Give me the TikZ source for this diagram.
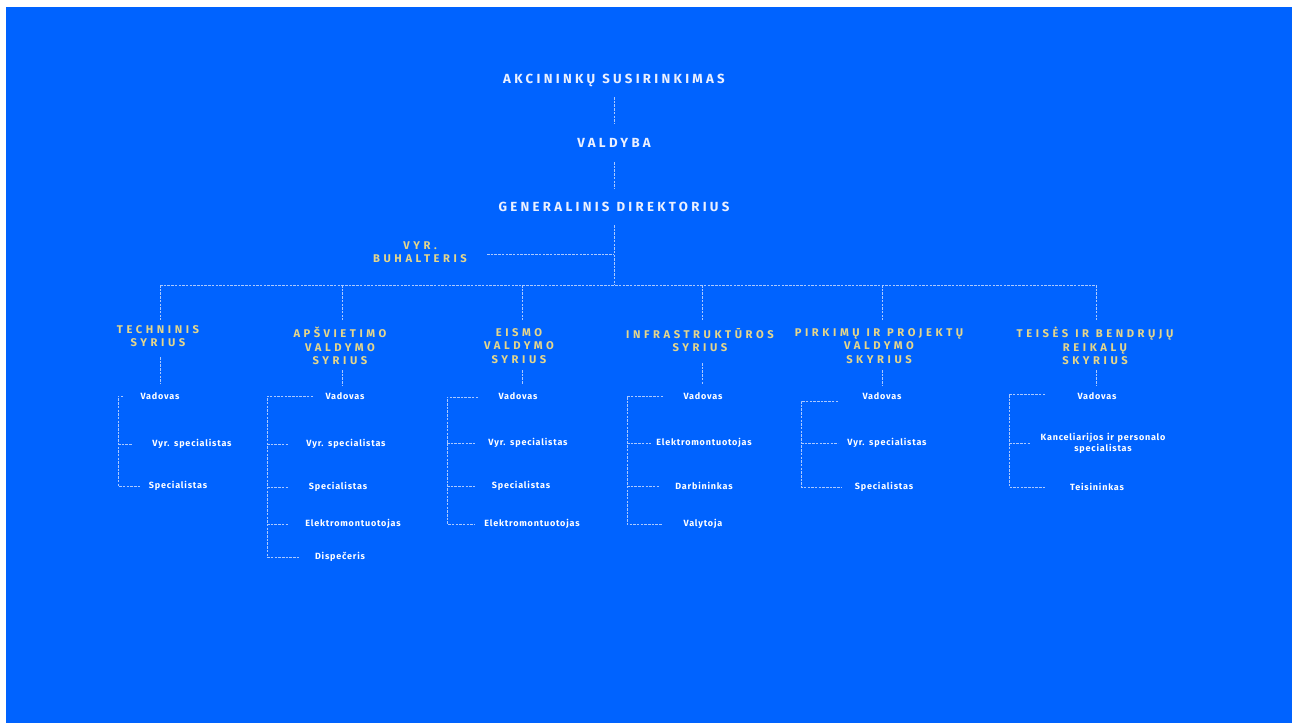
\documentclass[tikz,border=0pt]{standalone}
\usepackage{fontspec}
\newfontfamily\headfont[LetterSpace=25,WordSpace=1.1]{Fira Sans}
\newfontfamily\deptfont[LetterSpace=32,WordSpace=1.1]{Fira Sans}
\newfontfamily\itemfont[LetterSpace=9,WordSpace=1.2]{Fira Sans}
\usetikzlibrary{calc}
\definecolor{bgblue}{RGB}{0,99,255}
\definecolor{titlewhite}{RGB}{235,240,255}
\definecolor{deptyellow}{RGB}{228,214,140}
\definecolor{linecol}{RGB}{170,200,255}
\tikzset{
  conn/.style={draw=linecol, line width=0.9pt, dash pattern=on 2.5pt off 1.2pt},
  toptitle/.style={inner sep=0pt, text=titlewhite, font=\headfont\bfseries\fontsize{13.2}{15}\selectfont},
  depttitle/.style={inner sep=0pt, text=deptyellow, align=center, font=\deptfont\bfseries\fontsize{11.2}{13.5}\selectfont},
  itembox/.style={inner sep=0pt, text=white, align=center, font=\itemfont\bfseries\fontsize{9}{11}\selectfont}
}
\begin{document}
\begin{tikzpicture}[x=1pt,y=-1pt]
\fill[white] (0,0) rectangle (1294,723);
\fill[bgblue] (6,7) rectangle (1292,723);
\useasboundingbox (0,0) rectangle (1294,723);

% top chain
\node[toptitle] (akc) at (614,80) {AKCININKŲ SUSIRINKIMAS};
\node[toptitle] (val) at (614,143) {VALDYBA};
\node[toptitle] (gd) at (614,207) {GENERALINIS DIREKTORIUS};
\node[depttitle] (buh) at (420,252) {VYR.\\BUHALTERIS};

\coordinate (buhL) at (487,254);
\coordinate (buhJ) at (614,254);
\coordinate (busC) at (614,285);
\coordinate (busL) at (160,285);
\coordinate (busR) at (1096,285);

\draw[conn] ($(akc.center)+(0,17)$) -- ($(val.center)+(0,-20)$);
\draw[conn] ($(val.center)+(0,19)$) -- ($(gd.center)+(0,-19)$);
\draw[conn] ($(gd.center)+(0,18)$) -- (busC);
\draw[conn] (buhL) -- (buhJ);
\draw[conn] (busL) -- (busR);

% departments
\node[depttitle] (d1) at (158,336) {TECHNINIS\\SYRIUS};
\node[depttitle] (d2) at (340,346) {APŠVIETIMO\\VALDYMO\\SYRIUS};
\node[depttitle] (d3) at (519,346) {EISMO\\VALDYMO\\SYRIUS};
\node[depttitle] (d4) at (700,340) {INFRASTRUKTŪROS\\SYRIUS};
\node[depttitle] (d5) at (879,346) {PIRKIMŲ IR PROJEKTŲ\\VALDYMO\\SKYRIUS};
\node[depttitle] (d6) at (1095,346) {TEISĖS IR BENDRŲJŲ\\REIKALŲ\\SKYRIUS};

\foreach \x in {160,342,522,702,882,1096}{
  \draw[conn] (\x,285) -- (\x,320);
}

% column 1
\node[itembox] (a1) at (160,396) {Vadovas};
\node[itembox] (a2) at (192,444) {Vyr. specialistas};
\node[itembox] (a3) at (178,486) {Specialistas};
\draw[conn] (160,357) -- (160,383);
\draw[conn] (123,396) -- (118,396) -- (118,486) -- (141,486);
\draw[conn] (118,444) -- (132,444);

% column 2
\node[itembox] (b1) at (345,396) {Vadovas};
\node[itembox] (b2) at (346,444) {Vyr. specialistas};
\node[itembox] (b3) at (338,487) {Specialistas};
\node[itembox] (b4) at (353,524) {Elektromontuotojas};
\node[itembox] (b5) at (340,557) {Dispečeris};
\draw[conn] (342,370) -- (342,385);
\draw[conn] (313,396) -- (267,396) -- (267,557) -- (300,557);
\draw[conn] (267,444) -- (288,444);
\draw[conn] (267,487) -- (288,487);
\draw[conn] (267,524) -- (289,524);

% column 3
\node[itembox] (c1) at (518,396) {Vadovas};
\node[itembox] (c2) at (528,443) {Vyr. specialistas};
\node[itembox] (c3) at (521,486) {Specialistas};
\node[itembox] (c4) at (532,524) {Elektromontuotojas};
\draw[conn] (522,370) -- (522,384);
\draw[conn] (478,397) -- (447,397) -- (447,524) -- (475,524);
\draw[conn] (447,443) -- (475,443);
\draw[conn] (447,486) -- (475,486);

% column 4
\node[itembox] (e1) at (703,396) {Vadovas};
\node[itembox] (e2) at (704,443) {Elektromontuotojas};
\node[itembox] (e3) at (704,486) {Darbininkas};
\node[itembox] (e4) at (703,524) {Valytoja};
\draw[conn] (702,363) -- (702,385);
\draw[conn] (663,396) -- (627,396) -- (627,524) -- (662,524);
\draw[conn] (627,443) -- (651,443);
\draw[conn] (627,486) -- (660,486);

% column 5
\node[itembox] (f1) at (882,396) {Vadovas};
\node[itembox] (f2) at (887,443) {Vyr. specialistas};
\node[itembox] (f3) at (884,487) {Specialistas};
\draw[conn] (882,370) -- (882,385);
\draw[conn] (838,401) -- (801,401) -- (801,487) -- (841,487);
\draw[conn] (801,443) -- (838,443);

% column 6
\node[itembox] (g1) at (1097,396) {Vadovas};
\node[itembox] (g2) at (1103,443) {Kanceliarijos ir personalo\\specialistas};
\node[itembox] (g3) at (1097,487) {Teisininkas};
\draw[conn] (1096,370) -- (1096,385);
\draw[conn] (1045,394) -- (1009,394) -- (1009,487) -- (1045,487);
\draw[conn] (1009,443) -- (1030,443);
\end{tikzpicture}
\end{document}
